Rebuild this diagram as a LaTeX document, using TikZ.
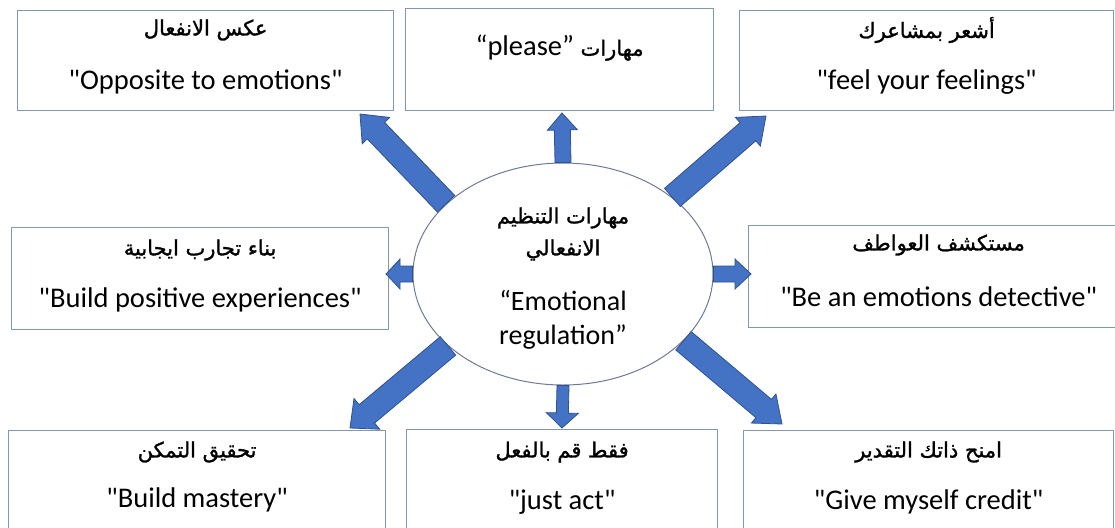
\documentclass[tikz,border=0pt]{standalone}
\usepackage{fontspec}
\setmainfont{Carlito}
\newfontfamily\enfont{Carlito}
\newfontfamily\arabicfont[Script=Arabic, FakeBold=1.3]{DejaVu Sans}
\TeXXeTstate=1
\usepackage{tikz}
\usetikzlibrary{calc, shapes.geometric, positioning}
\definecolor{boxcolor}{RGB}{132,151,176}
\definecolor{ringcolor}{RGB}{110,122,150}
\definecolor{arrowcolor}{RGB}{68,114,196}
\definecolor{arrowedge}{RGB}{47,82,143}

% block arrow: start, tip, shaft half width, head half width, head length
\newcommand{\blockarrow}[5]{%
  \coordinate (hb) at ($(#2)!#5!(#1)$);
  \filldraw[fill=arrowcolor, draw=arrowedge, line width=0.8pt, line join=miter]
    ($(#1)!#3!90:(#2)$) -- ($(hb)!#3!90:(#2)$) -- ($(hb)!#4!90:(#2)$) -- (#2)
    -- ($(hb)!#4!-90:(#2)$) -- ($(hb)!#3!-90:(#2)$) -- ($(#1)!#3!-90:(#2)$) -- cycle;
}

\begin{document}
\begin{tikzpicture}[
    x=1pt, y=-1pt,
    box/.style={draw=boxcolor, line width=1.2pt, inner sep=0pt, anchor=north west},
    ar/.style={font=\arabicfont\fontsize{21}{32}\selectfont, inner sep=0pt},
    en/.style={font=\enfont\fontsize{28.5}{34}\selectfont, inner sep=0pt}
]
    \useasboundingbox (0,0) rectangle (1115,527);

    % boxes
    \node[box, minimum width=376, minimum height=100] (opp) at (17,10) {};
    \node[box, minimum width=308, minimum height=102] (please) at (405,8) {};
    \node[box, minimum width=374, minimum height=100] (feel) at (739,10) {};
    \node[box, minimum width=377, minimum height=102] (build) at (11,227) {};
    \node[box, minimum width=380, minimum height=102] (detect) at (748,225) {};
    \node[box, minimum width=377, minimum height=130] (mastery) at (8,430) {};
    \node[box, minimum width=311, minimum height=130] (act) at (406,429) {};
    \node[box, minimum width=370, minimum height=130] (credit) at (743,430) {};

    % labels
    \node[ar] at ([yshift=-20]opp.north) {\beginR عكس الانفعال\endR};
    \node[en] at ([yshift=-72]opp.north) {"Opposite to emotions"};
    \node[en] at ([yshift=-40]please.north) {“please” {\arabicfont\fontsize{21}{24}\selectfont\beginR مهارات\endR}};
    \node[ar] at ([yshift=-20]feel.north) {\beginR أشعر بمشاعرك\endR};
    \node[en] at ([yshift=-72]feel.north) {"feel your feelings"};
    \node[ar] at ([yshift=-23]build.north) {\beginR بناء تجارب ايجابية\endR};
    \node[en] at ([yshift=-73]build.north) {"Build positive experiences"};
    \node[ar] at ([yshift=-20]detect.north) {\beginR مستكشف العواطف\endR};
    \node[en] at ([yshift=-72]detect.north) {"Be an emotions detective"};
    \node[ar] at ([yshift=-22]mastery.north) {\beginR تحقيق التمكن\endR};
    \node[en] at ([yshift=-70]mastery.north) {"Build mastery"};
    \node[ar] at ([yshift=-23]act.north) {\beginR فقط قم بالفعل\endR};
    \node[en] at ([yshift=-73]act.north) {"just act"};
    \node[ar] at ([yshift=-22]credit.north) {\beginR امنح ذاتك التقدير\endR};
    \node[en] at ([yshift=-72]credit.north) {"Give myself credit"};

    % centre
    \node[ellipse, draw=ringcolor, line width=1pt, minimum width=300, minimum height=222, inner sep=0pt] (emo) at (563,274) {};
    \node[ar, align=center] at ([yshift=40]emo.center) {\beginR مهارات التنظيم\endR\\\beginR الانفعالي\endR};
    \node[en, align=center, font=\enfont\fontsize{28}{34}\selectfont] at ([yshift=-46]emo.center) {“Emotional\\regulation”};

    % arrow tips
    \coordinate (oppTip) at (360,114);
    \coordinate (pleaseTip) at (562,113);
    \coordinate (feelTip) at (766,116);
    \coordinate (buildTip) at (386,274);
    \coordinate (detectTip) at (751,274);
    \coordinate (masteryTip) at (350,428);
    \coordinate (actTip) at (562,428);
    \coordinate (creditTip) at (782,424);

    \blockarrow{emo.149}{oppTip}{12pt}{19pt}{23pt}
    \blockarrow{emo.north}{pleaseTip}{8pt}{15pt}{17pt}
    \blockarrow{emo.35}{feelTip}{12pt}{19pt}{24pt}
    \blockarrow{emo.west}{buildTip}{8pt}{15pt}{14pt}
    \blockarrow{emo.east}{detectTip}{8pt}{15pt}{16pt}
    \blockarrow{emo.212}{masteryTip}{12pt}{20pt}{22pt}
    \blockarrow{emo.south}{actTip}{6pt}{16pt}{15pt}
    \blockarrow{emo.331}{creditTip}{12pt}{19pt}{24pt}
\end{tikzpicture}
\end{document}
